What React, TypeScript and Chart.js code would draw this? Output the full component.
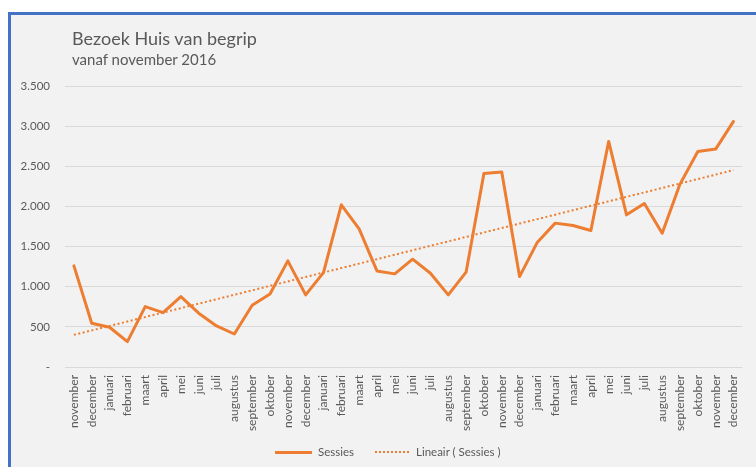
import React, { useEffect, useRef } from "react";
import { Chart, registerables } from "chart.js";

Chart.register(...registerables);

const months: string[] = [
  "november", "december",
  "januari", "februari", "maart", "april", "mei", "juni", "juli", "augustus", "september", "oktober", "november", "december",
  "januari", "februari", "maart", "april", "mei", "juni", "juli", "augustus", "september", "oktober", "november", "december",
  "januari", "februari", "maart", "april", "mei", "juni", "juli", "augustus", "september", "oktober", "november", "december",
];

const sessies: number[] = [
  1260, 545,
  495, 316, 752, 677, 877, 670, 511, 411, 770, 910, 1322, 898,
  1176, 2020, 1721, 1197, 1160, 1343, 1168, 898, 1181, 2411, 2428, 1126,
  1555, 1792, 1762, 1700, 2810, 1895, 2037, 1667, 2278, 2685, 2714, 3059,
];

const yTicks: number[] = [0, 500, 1000, 1500, 2000, 2500, 3000, 3500];

const titleText = "Bezoek Huis van begrip";
const subtitleText = "vanaf november 2016";
const seriesLabel = "Sessies";
const trendLabel = "Lineair ( Sessies )";

// Excel-style linear trendline (least squares fit of the series)
function linearTrend(vals: number[]): number[] {
  const n = vals.length;
  let sx = 0, sy = 0, sxy = 0, sxx = 0;
  vals.forEach((v, i) => {
    const x = i + 1;
    sx += x; sy += v; sxy += x * v; sxx += x * x;
  });
  const b = (n * sxy - sx * sy) / (n * sxx - sx * sx);
  const a = (sy - b * sx) / n;
  return vals.map((_, i) => a + b * (i + 1));
}

const ORANGE = "#ED7D31";
const TEXT = "#595959";
const FONT = "Lato, 'Open Sans', sans-serif";

function fmt(v: number): string {
  if (v === 0) return "-";
  return String(Math.round(v)).replace(/\B(?=(\d{3})+(?!\d))/g, ".");
}

export default function App() {
  const ref = useRef<HTMLCanvasElement | null>(null);

  useEffect(() => {
    if (!ref.current) return;
    const chart = new Chart(ref.current, {
      type: "line",
      data: {
        labels: months,
        datasets: [
          {
            label: seriesLabel,
            data: sessies,
            borderColor: ORANGE,
            backgroundColor: ORANGE,
            borderWidth: 3,
            pointRadius: 0,
            tension: 0,
            borderJoinStyle: "round",
            borderCapStyle: "round",
          },
          {
            label: trendLabel,
            data: linearTrend(sessies),
            borderColor: ORANGE,
            backgroundColor: ORANGE,
            borderWidth: 2,
            borderDash: [2, 2.5],
            pointRadius: 0,
            tension: 0,
          },
        ],
      },
      options: {
        animation: false,
        responsive: false,
        maintainAspectRatio: false,
        layout: { padding: { left: 0, top: 71, right: 9, bottom: 0 } },
        plugins: {
          legend: { display: false },
          title: { display: false },
          tooltip: { enabled: false },
        },
        scales: {
          x: {
            offset: true,
            grid: { display: false, drawTicks: false },
            border: { display: false },
            ticks: {
              color: TEXT,
              font: { family: FONT, size: 12 },
              maxRotation: 90,
              minRotation: 90,
              autoSkip: false,
              padding: 8,
            },
            afterFit: (s: any) => { s.height = 100; },
          },
          y: {
            min: 0,
            max: 3500,
            afterBuildTicks: (s: any) => { s.ticks = yTicks.map((v) => ({ value: v })); },
            grid: { color: "#d9d9d9", lineWidth: 1, drawTicks: false },
            border: { display: false },
            ticks: {
              color: TEXT,
              font: { family: FONT, size: 11.5 },
              padding: 15,
              callback: (v: any) => fmt(Number(v)),
            },
            afterFit: (s: any) => { s.width = 54; },
          },
        },
      },
    });
    return () => chart.destroy();
  }, []);

  return (
    <div style={{ position: "fixed", left: 0, top: 0, width: 756, height: 467, overflow: "hidden", background: "#fff" }}>
      <div
        style={{
          position: "absolute", left: 8, top: 12, width: 760, height: 470,
          borderLeft: "3px solid #4472C4", borderTop: "3px solid #4472C4",
          background: "#F2F2F2",
        }}
      />
      <canvas ref={ref} width={745} height={452} style={{ position: "absolute", left: 11, top: 15, width: 745, height: 452 }} />
      <div style={{ position: "absolute", left: 72, top: 28, fontFamily: FONT, fontSize: 18, lineHeight: "20px", color: TEXT, whiteSpace: "nowrap" }}>
        {titleText}
      </div>
      <div style={{ position: "absolute", left: 72, top: 51, fontFamily: FONT, fontSize: 15, lineHeight: "17px", color: TEXT, whiteSpace: "nowrap" }}>
        {subtitleText}
      </div>
      <div style={{ position: "absolute", left: 275, top: 451, width: 37, height: 3, background: ORANGE }} />
      <div style={{ position: "absolute", left: 318, top: 445, fontFamily: FONT, fontSize: 11.5, lineHeight: "14px", color: TEXT, whiteSpace: "nowrap" }}>
        {seriesLabel}
      </div>
      <div style={{ position: "absolute", left: 375, top: 451, width: 34, height: 0, borderTop: `2px dotted ${ORANGE}` }} />
      <div style={{ position: "absolute", left: 416, top: 445, fontFamily: FONT, fontSize: 11.5, lineHeight: "14px", color: TEXT, whiteSpace: "nowrap" }}>
        {trendLabel}
      </div>
    </div>
  );
}
